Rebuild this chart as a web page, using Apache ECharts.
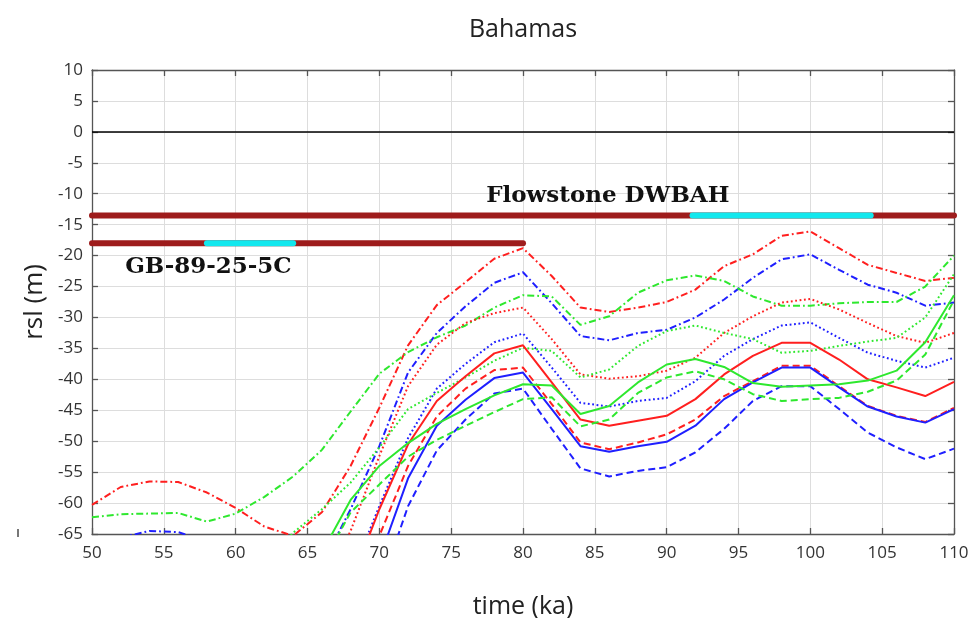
<!DOCTYPE html>
<html><head><meta charset="utf-8">
<script src="https://cdn.jsdelivr.net/npm/echarts@6/dist/echarts.min.js"></script>
<style>html,body{margin:0;padding:0;background:#fff}#c{width:973px;height:618px}</style>
</head><body><div id="c"></div>
<script>
// ---- data ----
const timeKa = [50,52,54,56,58,60,62,64,66,68,70,72,74,76,78,80,82,84,86,88,90,92,94,96,98,100,102,104,106,108,110];
const xTicks = [50,55,60,65,70,75,80,85,90,95,100,105,110];
const yTicks = [10,5,0,-5,-10,-15,-20,-25,-30,-35,-40,-45,-50,-55,-60,-65];

const redDashDot   = [-60.3,-57.4,-56.5,-56.6,-58.3,-60.8,-63.8,-65.3,-61.5,-54,-44.6,-34.5,-28,-24.3,-20.5,-18.8,-23.3,-28.4,-29.1,-28.4,-27.5,-25.5,-21.7,-19.8,-16.8,-16.1,-18.8,-21.5,-22.8,-24.1,-23.6];
const blueDashDot  = [-67,-65.6,-64.5,-64.7,-66.2,-69,-72,-74,-70,-61,-50.8,-38.9,-32.5,-28.2,-24.4,-22.7,-27.7,-33,-33.7,-32.5,-32,-30,-27.1,-23.6,-20.6,-19.8,-22.3,-24.7,-26,-28.1,-27.6];
const greenDashDot = [-62.3,-61.8,-61.7,-61.6,-63,-61.7,-59,-55.7,-51.4,-45.2,-39.1,-35.6,-33.2,-31.3,-28.4,-26.4,-26.6,-31.2,-29.8,-26,-24,-23.2,-24.1,-26.6,-28.1,-28.1,-27.7,-27.5,-27.5,-25,-20];
const redDotted    = [null,null,null,null,null,null,null,null,-74,-64.5,-52.4,-41.1,-34.4,-30.9,-29.3,-28.4,-33.5,-39.2,-39.9,-39.5,-38.6,-36.5,-32.5,-29.8,-27.6,-27,-28.7,-30.9,-33,-34.1,-32.5];
const blueDotted   = [null,null,null,null,null,null,null,null,null,-72,-60.5,-49.5,-41.5,-37.5,-34,-32.6,-38.1,-43.8,-44.4,-43.5,-43,-40.3,-36.2,-33.5,-31.3,-30.8,-33.3,-35.7,-37,-38.1,-36.5];
const greenDotted  = [null,null,null,null,null,null,-70,-64.8,-61,-56.7,-51,-44.8,-42.2,-39.7,-37,-34.9,-35.4,-39.7,-38.4,-34.6,-32.2,-31.3,-32.5,-33.5,-35.7,-35.4,-34.6,-33.9,-33.3,-30,-23];
const redSolid     = [null,null,null,null,null,null,null,null,-85,-73,-61,-50.5,-43.5,-39.5,-35.8,-34.5,-40.5,-46.5,-47.5,-46.7,-45.9,-43.2,-39.2,-36.2,-34.1,-34.1,-36.8,-40,-41.3,-42.7,-40.4];
const redDashed    = [null,null,null,null,null,null,null,null,null,-80,-65.3,-54,-46,-41.5,-38.5,-38.1,-44,-50.2,-51.3,-50.2,-48.9,-46.5,-42.7,-40.3,-37.8,-37.8,-41.1,-44.3,-45.9,-46.9,-44.6];
const blueSolid    = [null,null,null,null,null,null,null,null,null,null,-69,-56,-47.5,-43.3,-39.8,-38.9,-44.8,-50.8,-51.7,-50.8,-50.1,-47.5,-43.2,-40.5,-38.1,-38.1,-41.3,-44.4,-46,-47,-44.8];
const blueDashed   = [null,null,null,null,null,null,null,null,null,null,-74,-60.5,-51.5,-46.5,-42.3,-41.5,-48,-54.4,-55.7,-54.8,-54.2,-51.8,-48,-43.5,-41.1,-41.1,-44.8,-48.6,-51,-52.9,-51.2];
const greenSolid   = [null,null,null,null,null,null,null,-78,-68,-59.5,-54,-50.3,-47.2,-44.8,-42.6,-40.8,-41,-45.6,-44.3,-40.5,-37.6,-36.7,-38,-40.6,-41.2,-41,-40.8,-40.2,-38.6,-34,-26.4];
const greenDashed  = [null,null,null,null,null,null,null,-80,-70,-61.5,-57,-52.5,-49.8,-47.5,-45.3,-43.2,-42.9,-47.6,-46.5,-42.2,-39.7,-38.7,-40,-42.4,-43.5,-43.2,-43,-42,-40.2,-36,-27.2];

// sample age ranges (ka) and levels (m)
const flowstoneRange = [50, 110], flowstoneAge = [91.8, 104.2], flowstoneLevel = -13.5;
const gbRange = [50, 80], gbAge = [58, 64], gbLevel = -18;
const flowstoneLabel = {text: 'Flowstone DWBAH', at: [85.9, -10.3]};
const gbLabel = {text: 'GB-89-25-5C', at: [58.1, -21.9]};

// ---- styles ----
const RED = '#ff1f1f', BLUE = '#1f1fff', GREEN = '#2ee82e';
const STY = {solid: 'solid', dashed: [7, 4], dotted: [1.8, 2.6], dashdot: [7, 3, 1.8, 3]};

function pairs(ys){ return timeKa.map((t,i)=>[t, ys[i]]); }
function curve(name, ys, color, style){
  return {name, type:'line', data:pairs(ys), showSymbol:false, symbol:'none', clip:true,
    lineStyle:{color, width:2, type:STY[style]}, z:3, animation:false};
}
function bar(range, level, color, w, z){
  return {type:'line', data:[[range[0],level],[range[1],level]], symbol:'none', clip:false,
    lineStyle:{color, width:w, type:'solid', cap:'round'}, z, animation:false};
}

const series = [
  curve('rdd', redDashDot, RED, 'dashdot'),
  curve('bdd', blueDashDot, BLUE, 'dashdot'),
  curve('gdd', greenDashDot, GREEN, 'dashdot'),
  curve('rdt', redDotted, RED, 'dotted'),
  curve('bdt', blueDotted, BLUE, 'dotted'),
  curve('gdt', greenDotted, GREEN, 'dotted'),
  curve('rs', redSolid, RED, 'solid'),
  curve('rds', redDashed, RED, 'dashed'),
  curve('bs', blueSolid, BLUE, 'solid'),
  curve('bds', blueDashed, BLUE, 'dashed'),
  curve('gs', greenSolid, GREEN, 'solid'),
  curve('gds', greenDashed, GREEN, 'dashed'),
  Object.assign(bar(flowstoneRange, flowstoneLevel, '#9e1c1c', 6, 5), {
    markPoint:{symbol:'rect', symbolSize:0, silent:true, animation:false,
      label:{show:true, position:'inside', formatter:p=>p.name, color:'#111',
        fontFamily:'DejaVu Serif', fontWeight:'bold', fontSize:23},
      data:[{name:flowstoneLabel.text, coord:flowstoneLabel.at}, {name:gbLabel.text, coord:gbLabel.at}]}
  }),
  bar(flowstoneAge, flowstoneLevel, '#12e8ee', 6, 6),
  bar(gbRange, gbLevel, '#9e1c1c', 6, 5),
  bar(gbAge, gbLevel, '#12e8ee', 6, 6),
  {type:'line', data:[], markLine:{silent:true, symbol:'none', animation:false, label:{show:false},
    lineStyle:{color:'#000', width:1.6, type:'solid'}, data:[{yAxis:0}]}, z:4}
];

const AX = '#555';
const chart = echarts.init(document.getElementById('c'), null, {renderer:'canvas'});
chart.setOption({
  backgroundColor:'#fff',
  animation:false,
  graphic:[{type:'rect', left:17, top:529, shape:{width:2, height:8}, style:{fill:'#777'}, silent:true}],
  grid:{left:92, right:19, top:70, bottom:84, containLabel:false, outerBoundsMode:'none'},
  xAxis:[{
    type:'value', min:xTicks[0], max:xTicks[xTicks.length-1], interval:5, position:'bottom',
    name:'time (ka)', nameLocation:'middle', nameGap:60,
    nameTextStyle:{fontFamily:'Open Sans', fontSize:25, color:'#222'},
    axisLine:{show:true, onZero:false, lineStyle:{color:AX, width:1.3}},
    axisTick:{show:true, inside:true, length:6, lineStyle:{color:AX, width:1.3}},
    axisLabel:{fontFamily:'Open Sans', fontSize:17, color:'#333', margin:11},
    splitLine:{show:true, lineStyle:{color:'#dddddd', width:1}}
  },{
    type:'value', min:xTicks[0], max:xTicks[xTicks.length-1], interval:5, position:'top',
    name:'Bahamas', nameLocation:'middle', nameGap:28,
    nameTextStyle:{fontFamily:'Open Sans', fontSize:25, color:'#222'},
    axisLine:{show:true, onZero:false, lineStyle:{color:AX, width:1.3}},
    axisTick:{show:true, inside:true, length:6, lineStyle:{color:AX, width:1.3}},
    axisLabel:{show:false}, splitLine:{show:false}
  }],
  yAxis:[{
    type:'value', min:yTicks[yTicks.length-1], max:yTicks[0], interval:5, position:'left',
    name:'rsl (m)', nameLocation:'middle', nameGap:40,
    nameTextStyle:{fontFamily:'Open Sans', fontSize:26, color:'#222'},
    axisLine:{show:true, onZero:false, lineStyle:{color:AX, width:1.3}},
    axisTick:{show:true, inside:true, length:6, lineStyle:{color:AX, width:1.3}},
    axisLabel:{fontFamily:'Open Sans', fontSize:17, color:'#333', margin:9},
    splitLine:{show:true, lineStyle:{color:'#dddddd', width:1}}
  },{
    type:'value', min:yTicks[yTicks.length-1], max:yTicks[0], interval:5, position:'right',
    axisLine:{show:true, onZero:false, lineStyle:{color:AX, width:1.3}},
    axisTick:{show:true, inside:true, length:6, lineStyle:{color:AX, width:1.3}},
    axisLabel:{show:false}, splitLine:{show:false}
  }],
  series
});
</script></body></html>
